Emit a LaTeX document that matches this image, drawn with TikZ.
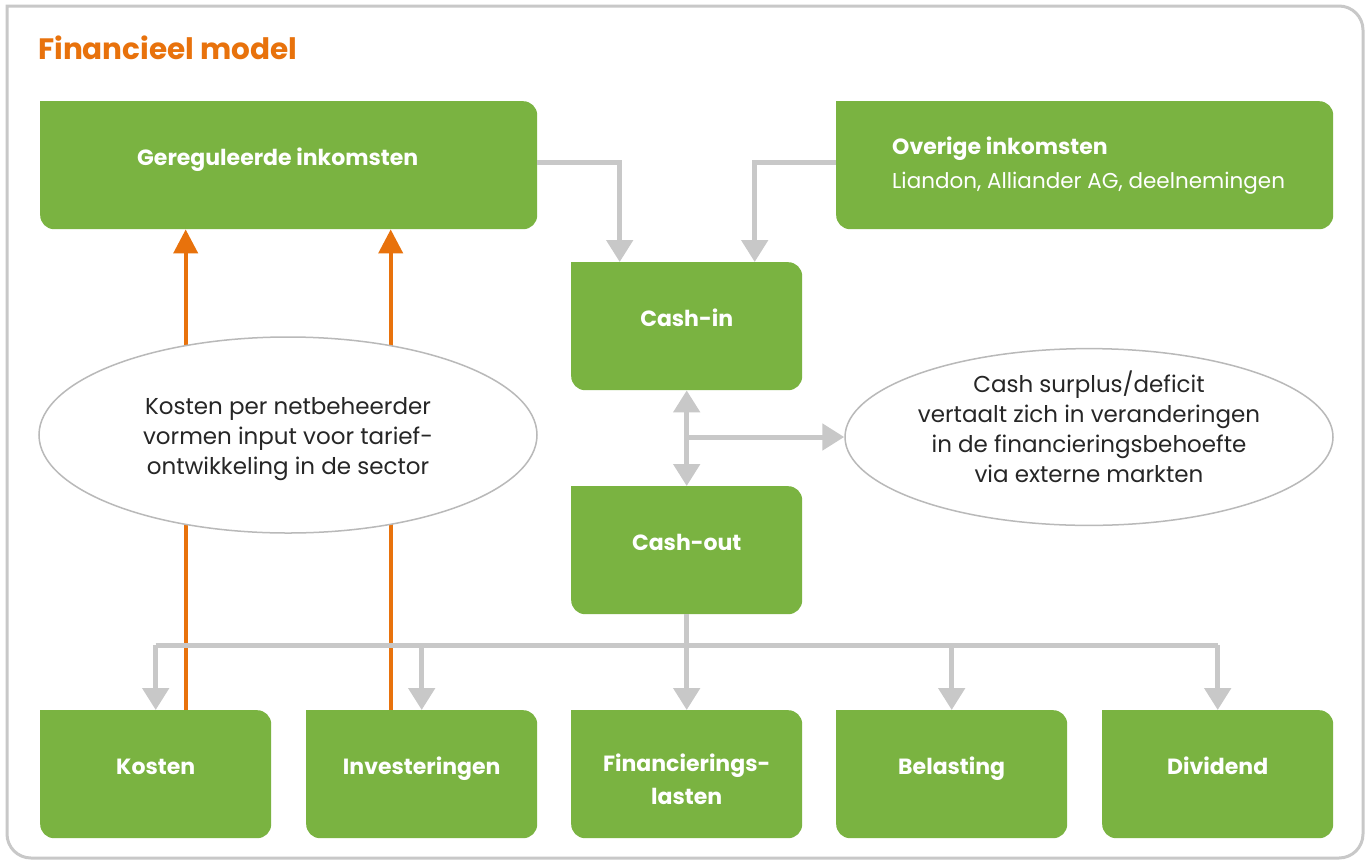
\documentclass[tikz,border=0pt]{standalone}
\usepackage{fontspec}
\setmainfont{Poppins}
\usetikzlibrary{arrows.meta,shapes.geometric}
\definecolor{agreen}{RGB}{122,179,65}
\definecolor{aorange}{RGB}{232,114,12}
\definecolor{agray}{RGB}{200,200,200}
\definecolor{egray}{RGB}{185,185,185}
\newcommand\boxfnt{\fontsize{22}{33}\selectfont\bfseries}
\newcommand\ellfnt{\fontsize{23}{30}\selectfont}
\newcommand\subfnt{\fontsize{21.5}{34}\selectfont}
\newcommand\titlefnt{\fontsize{29.5}{32}\selectfont\bfseries}
\begin{document}
\begin{tikzpicture}[x=1pt,y=-1pt,
  greenbox/.style={fill=agreen, rounded corners=14pt, inner sep=0pt, anchor=north west,
    text=white, font=\boxfnt, align=center, minimum width=#1, minimum height=128pt,
    text height=18pt, text depth=17pt},
  greenbox/.default=231pt,
  bubble/.style={ellipse, draw=egray, line width=1.5pt, fill=white, inner sep=0pt,
    font=\ellfnt, align=center, text=black!85},
  garrow/.style={draw=agray, line width=5pt, -{Triangle[width=26pt,length=22pt]}},
  gline/.style={draw=agray, line width=5pt},
  oarrow/.style={draw=aorange, line width=4pt, -{Triangle[width=24pt,length=24pt]}}]
\useasboundingbox (0,0) rectangle (1371,863);
\fill[white] (0,0) rectangle (1371,863);
\draw[agray, line width=3pt, rounded corners=24pt, line cap=rect]
  (7,6) -- (1363,6) -- (1363,858) -- (7,858) -- (7,6);

\node[anchor=base west, text=aorange, font=\titlefnt, inner sep=0pt] (title) at (38,59) {Financieel model};

% boxes
\node[greenbox=497pt] (gereg) at (40,101) {Gereguleerde inkomsten\hspace*{22pt}};
\node[greenbox=497pt] (overige) at (836,101) {};
\node[anchor=west, inner sep=0pt, align=left, text=white, font=\subfnt] (overigetxt) at (892,166)
  {{\boxfnt Overige inkomsten}\\Liandon, Alliander AG, deelnemingen};
\node[greenbox] (cashin) at (571,262) {Cash-in};
\node[greenbox] (cashout) at (571,486) {Cash-out};
\node[greenbox] (kosten) at (40,710) {Kosten};
\node[greenbox] (invest) at (306,710) {Investeringen};
\node[greenbox, text height=66pt, text depth=5.5pt] (finlast) at (571,710) {Financierings-\\lasten};
\node[greenbox] (belasting) at (836,710) {Belasting};
\node[greenbox] (dividend) at (1102,710) {Dividend};
\foreach \n in {gereg,overige,cashin,cashout,kosten,invest,finlast,belasting,dividend}
  \fill[agreen] (\n.north west) rectangle ([xshift=20pt,yshift=-20pt]\n.north west);

% orange arrows (behind ellipse)
\draw[oarrow] ([xshift=30pt]kosten.north) -- ([xshift=30pt]kosten.north |- gereg.south);
\draw[oarrow] ([xshift=-31pt]invest.north) -- ([xshift=-31pt]invest.north |- gereg.south);

% ellipses
\node[bubble, minimum width=498pt, minimum height=196pt, text height=80pt, text depth=0.5pt] (leftell) at (288,435)
  {Kosten per netbeheerder\\vormen input voor tarief-\\ontwikkeling in de sector};
\node[bubble, minimum width=488pt, minimum height=166pt, text height=108pt, text depth=17pt] (rightell) at (1089,437)
  {Cash surplus/deficit\\vertaalt zich in veranderingen\\in de financieringsbehoefte\\via externe markten};

% gray connectors
\draw[garrow] ([yshift=3pt]gereg.east) -| ([xshift=-67pt]cashin.north);
\draw[garrow] ([yshift=3pt]overige.west) -| ([xshift=68pt]cashin.north);
\draw[garrow, {Triangle[width=26pt,length=22pt]}-{Triangle[width=26pt,length=22pt]}] (cashin.south) -- (cashout.north);
\draw[garrow] (cashin.south |- rightell.west) -- (rightell.west);
\coordinate (bus) at (687,645);
\draw[gline] (kosten.north |- bus) -- (dividend.north |- bus);
\draw[garrow] (cashout.south) -- (finlast.north);
\foreach \n in {kosten,invest,belasting,dividend}
  \draw[garrow] (\n.north |- bus) -- (\n.north);
\end{tikzpicture}
\end{document}
